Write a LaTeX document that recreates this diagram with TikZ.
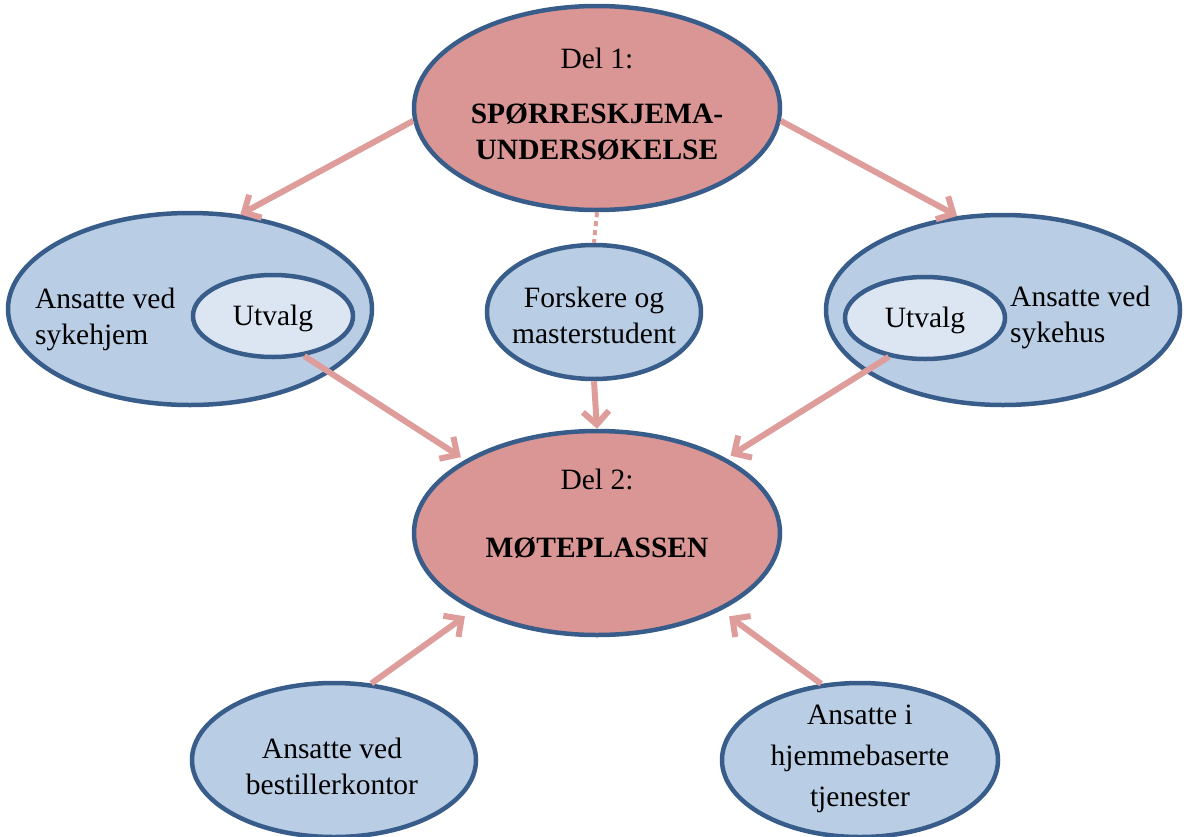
\documentclass[tikz,border=0pt]{standalone}
\usepackage{fontspec}
\setmainfont{Liberation Serif}
\usetikzlibrary{arrows.meta, positioning, shapes.geometric}
\usepackage{xcolor}

\definecolor{delfill}{HTML}{D99694}
\definecolor{grpfill}{HTML}{B9CDE5}
\definecolor{utvfill}{HTML}{DCE6F2}
\definecolor{rim}{HTML}{385D8A}
\definecolor{pil}{HTML}{DE9C9A}
\newcommand{\diatxt}{\fontsize{29.5}{36}\selectfont}

\begin{document}
\begin{tikzpicture}[
  x=1pt, y=-1pt,
  del/.style={draw=rim, ellipse, line width=4.5pt, fill=delfill, minimum width=366pt, minimum height=204pt, inner sep=0pt},
  grp/.style={draw=rim, ellipse, line width=4.5pt, fill=grpfill, inner sep=0pt},
  utv/.style={grp, fill=utvfill, minimum width=160pt, minimum height=82pt},
  txt/.style={align=center, font=\diatxt, inner sep=0pt},
  arrow/.style={line width=6pt, draw=pil, -{Straight Barb[length=13pt, width=26pt]}},
  dots/.style={line width=4pt, draw=pil, dash pattern=on 5pt off 4pt}
]
\useasboundingbox (0,0) rectangle (1184,836);

% Part 1 (top)
\node[del] (del1) at (597,108) {};
\node[txt] (del1txt) at (597,104) {Del 1:\\[19pt]\textbf{SPØRRESKJEMA-}\\\textbf{UNDERSØKELSE}};

% Groups (middle row)
\node[grp, minimum width=364pt, minimum height=192pt] (sykehjem) at (190,309) {};
\node[utv] (utvL) at (273,316) {};
\node[txt] (utvLtxt) at (273,318) {Utvalg};
\node[txt, align=left, anchor=west] (sykehjemtxt) at (35,319) {Ansatte ved\\sykehjem};

\node[grp, minimum width=214pt, minimum height=134pt] (forsk) at (594,312) {};
\node[txt] (forsktxt) at (594,315) {Forskere og\\masterstudent};

\node[grp, minimum width=354pt, minimum height=190pt] (sykehus) at (1003,310) {};
\node[utv] (utvR) at (925,318) {};
\node[txt] (utvRtxt) at (925,320) {Utvalg};
\node[txt, align=left, anchor=west] (sykehustxt) at (1010,317) {Ansatte ved\\sykehus};

% Part 2 (centre)
\node[del] (del2) at (597,533) {};
\node[txt] (del2txt) at (597,514) {Del 2:\\[32pt]\textbf{MØTEPLASSEN}};

% Groups (bottom row)
\node[grp, minimum width=284pt, minimum height=154pt] (bestiller) at (334,760) {};
\node[txt] (bestillertxt) at (332,766) {Ansatte ved\\bestillerkontor};

\node[grp, minimum width=276pt, minimum height=154pt] (hjemme) at (860,760) {};
\node[txt, font=\fontsize{29.5}{41}\selectfont] (hjemmetxt) at (860,759) {Ansatte i\\hjemmebaserte\\tjenester};

% Selection from part 1
\draw[arrow] (del1.184) -- (sykehjem.62);
\draw[arrow] (del1.356) -- (sykehus.116);
\draw[dots] (del1.south) -- (forsk.north);

% Into the meeting place
\draw[arrow, shorten >=5pt] (utvL.-52) -- (del2.151);
\draw[arrow] (forsk.south) -- (del2.north);
\draw[arrow, shorten >=5pt] (utvR.227) -- (del2.30);
\draw[arrow, shorten >=10pt] (bestiller.64) -- (del2.212);
\draw[arrow, shorten >=10pt] (hjemme.117) -- (del2.328);

\end{tikzpicture}
\end{document}
